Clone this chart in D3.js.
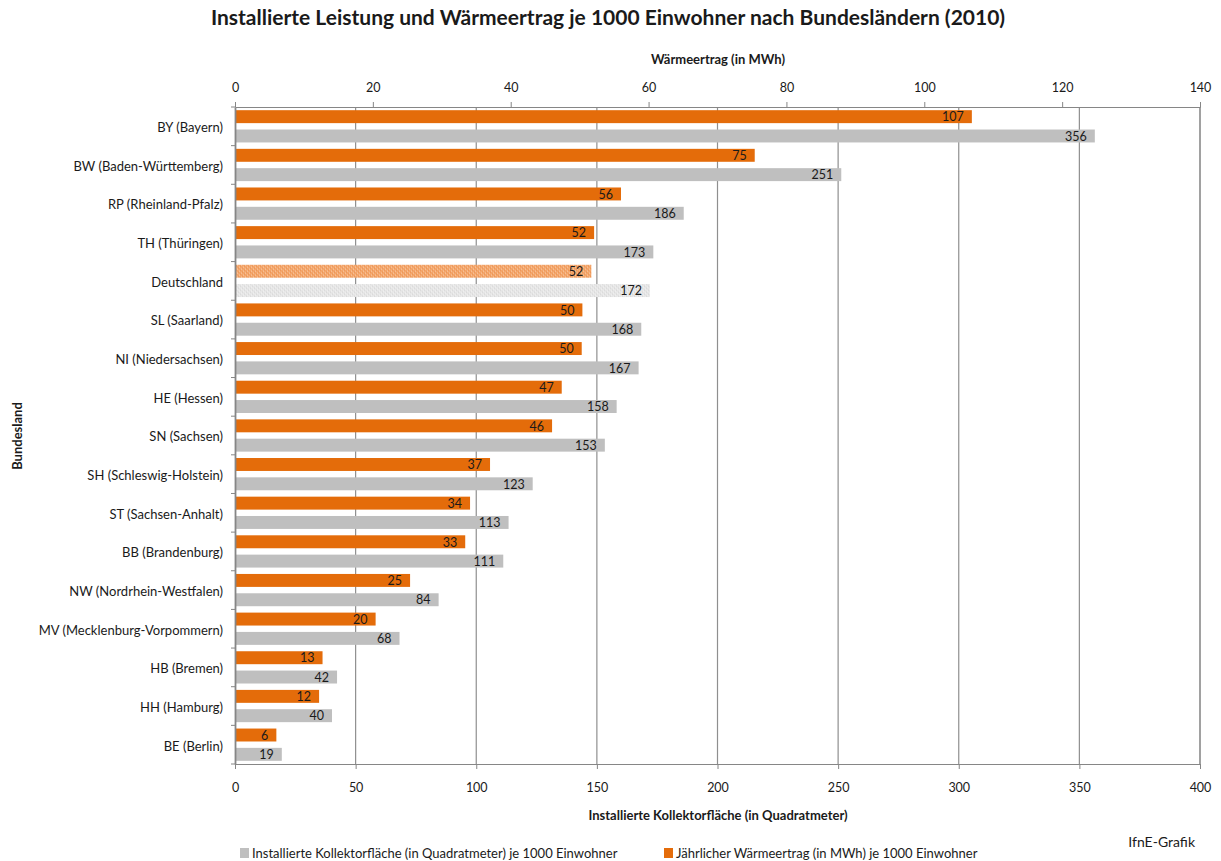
<!DOCTYPE html>
<html>
<head>
<meta charset="utf-8">
<script src="https://cdn.jsdelivr.net/npm/d3@7"></script>
<style>
  body { margin: 0; background: #fff; }
  text { font-family: Lato, "Open Sans", sans-serif; fill: #1a1a1a; }
</style>
</head>
<body>
<div id="chart"></div>
<script>
// data
var laender = ['BY (Bayern)', 'BW (Baden-Württemberg)', 'RP (Rheinland-Pfalz)', 'TH (Thüringen)',
  'Deutschland', 'SL (Saarland)', 'NI (Niedersachsen)', 'HE (Hessen)', 'SN (Sachsen)',
  'SH (Schleswig-Holstein)', 'ST (Sachsen-Anhalt)', 'BB (Brandenburg)', 'NW (Nordrhein-Westfalen)',
  'MV (Mecklenburg-Vorpommern)', 'HB (Bremen)', 'HH (Hamburg)', 'BE (Berlin)'];
var waermeertrag = [106.9, 75.4, 56, 52.1, 51.7, 50.4, 50.3, 47.4, 46, 37, 34.1, 33.4, 25.4, 20.4, 12.7, 12.2, 6];
var kollektorflaeche = [356.4, 251.3, 186, 173.4, 172, 168.4, 167.3, 158.2, 153.3, 123.4, 113.4, 111.2, 84.4, 68.2, 42.3, 40.2, 19.4];
var ticksTop = [0, 20, 40, 60, 80, 100, 120, 140];
var ticksBottom = [0, 50, 100, 150, 200, 250, 300, 350, 400];

(function() {
  var width = 1221, height = 861;
  var plotLeft = 235, plotRight = 1200, plotTop = 107, plotBottom = 764;
  var orange = '#e46c0a', grey = '#bfbfbf', axisCol = '#868686';
  var fmt = d3.format('.0f');

  var svg = d3.select('#chart').append('svg')
    .attr('width', width).attr('height', height);

  // patterns for the Deutschland bars
  var defs = svg.append('defs');
  function pattern(id, bg, dot, light) {
    var p = defs.append('pattern').attr('id', id)
      .attr('patternUnits', 'userSpaceOnUse').attr('width', 4).attr('height', 4);
    p.append('rect').attr('width', 4).attr('height', 4).attr('fill', bg);
    p.append('rect').attr('x', 0).attr('y', 0).attr('width', 1).attr('height', 1).attr('fill', dot);
    p.append('rect').attr('x', 2).attr('y', 2).attr('width', 1).attr('height', 1).attr('fill', dot);
    p.append('rect').attr('x', 3).attr('y', 1).attr('width', 1).attr('height', 1).attr('fill', light);
    p.append('rect').attr('x', 1).attr('y', 3).attr('width', 1).attr('height', 1).attr('fill', light);
  }
  pattern('patO', '#f3a66c', '#eb8f4a', '#f9cfae');
  pattern('patG', '#e6e6e6', '#d4d4d4', '#f4f4f4');

  var xBottom = d3.scaleLinear().domain([0, 400]).range([plotLeft, plotRight]);
  var xTop = d3.scaleLinear().domain([0, 140]).range([plotLeft, plotRight]);
  var y = d3.scaleBand().domain(laender).range([plotTop, plotBottom]);
  var sub = d3.scaleBand().domain(['w', 'k']).range([0, y.bandwidth()])
    .paddingInner(0.33).paddingOuter(0.165);

  // gridlines
  svg.append('g').selectAll('line')
    .data(ticksBottom.slice(1))
    .enter().append('line')
    .attr('x1', function(d) { return xBottom(d); })
    .attr('x2', function(d) { return xBottom(d); })
    .attr('y1', plotTop).attr('y2', plotBottom)
    .attr('stroke', '#8f8f8f').attr('stroke-width', 1.2);

  // bars
  var rows = svg.append('g').selectAll('g')
    .data(laender)
    .enter().append('g')
    .attr('transform', function(d) { return 'translate(0,' + y(d) + ')'; });

  rows.append('rect')
    .attr('x', plotLeft)
    .attr('y', sub('w'))
    .attr('height', sub.bandwidth())
    .attr('width', function(d, i) { return xTop(waermeertrag[i]) - plotLeft; })
    .attr('fill', function(d) { return d === 'Deutschland' ? 'url(#patO)' : orange; });

  rows.append('rect')
    .attr('x', plotLeft)
    .attr('y', sub('k'))
    .attr('height', sub.bandwidth())
    .attr('width', function(d, i) { return xBottom(kollektorflaeche[i]) - plotLeft; })
    .attr('fill', function(d) { return d === 'Deutschland' ? 'url(#patG)' : grey; });

  rows.append('text')
    .attr('x', function(d, i) { return xTop(waermeertrag[i]) - 8; })
    .attr('y', sub('w') + sub.bandwidth() / 2)
    .attr('dy', '0.38em')
    .attr('text-anchor', 'end')
    .style('font-size', '12.5px')
    .text(function(d, i) { return fmt(waermeertrag[i]); });

  rows.append('text')
    .attr('x', function(d, i) { return xBottom(kollektorflaeche[i]) - 8; })
    .attr('y', sub('k') + sub.bandwidth() / 2)
    .attr('dy', '0.38em')
    .attr('text-anchor', 'end')
    .style('font-size', '12.5px')
    .text(function(d, i) { return fmt(kollektorflaeche[i]); });

  // axes
  var axB = svg.append('g').attr('transform', 'translate(0,' + plotBottom + ')')
    .call(d3.axisBottom(xBottom).tickValues(ticksBottom).tickSize(5).tickPadding(14));
  var axT = svg.append('g').attr('transform', 'translate(0,' + plotTop + ')')
    .call(d3.axisTop(xTop).tickValues(ticksTop).tickSize(5).tickPadding(10));
  [axB, axT].forEach(function(ax) {
    ax.select('.domain').attr('stroke', axisCol);
    ax.selectAll('.tick line').attr('stroke', axisCol);
    ax.selectAll('.tick text').style('font-size', '12.5px')
      .style('font-family', 'Lato, sans-serif').attr('fill', '#1a1a1a');
  });

  var axL = svg.append('g').attr('transform', 'translate(' + plotLeft + ',0)')
    .call(d3.axisLeft(y).tickSize(0).tickPadding(12));
  axL.select('.domain').attr('stroke', axisCol).attr('stroke-width', 1.8);
  axL.selectAll('.tick text').style('font-size', '13px').attr('dy', '0.45em')
    .style('font-family', 'Lato, sans-serif').attr('fill', '#1a1a1a');
  // boundary ticks on left axis
  svg.append('g').selectAll('line')
    .data(d3.range(laender.length + 1))
    .enter().append('line')
    .attr('x1', plotLeft - 4).attr('x2', plotLeft)
    .attr('y1', function(i) { return plotTop + i * y.step(); })
    .attr('y2', function(i) { return plotTop + i * y.step(); })
    .attr('stroke', axisCol);

  // right border
  svg.append('line').attr('x1', plotRight).attr('x2', plotRight)
    .attr('y1', plotTop).attr('y2', plotBottom).attr('stroke', axisCol);

  // titles
  svg.append('text').attr('x', 608).attr('y', 25).attr('text-anchor', 'middle')
    .style('font-size', '21px').style('font-weight', 'bold')
    .text('Installierte Leistung und Wärmeertrag je 1000 Einwohner nach Bundesländern (2010)');
  svg.append('text').attr('x', 718).attr('y', 64).attr('text-anchor', 'middle')
    .style('font-size', '13px').style('font-weight', 'bold')
    .text('Wärmeertrag (in MWh)');
  svg.append('text').attr('x', 718).attr('y', 820).attr('text-anchor', 'middle')
    .style('font-size', '13px').style('font-weight', 'bold')
    .text('Installierte Kollektorfläche (in Quadratmeter)');
  svg.append('text').attr('transform', 'translate(22,436) rotate(-90)').attr('text-anchor', 'middle')
    .style('font-size', '13px').style('font-weight', 'bold')
    .text('Bundesland');
  svg.append('text').attr('x', 1195).attr('y', 847).attr('text-anchor', 'end')
    .style('font-size', '14px')
    .text('IfnE-Grafik');

  // legend
  var legend = [
    { label: 'Installierte Kollektorfläche (in Quadratmeter) je 1000 Einwohner', color: grey, x: 240 },
    { label: 'Jährlicher Wärmeertrag (in MWh) je 1000 Einwohner', color: orange, x: 664 }
  ];
  var lg = svg.append('g').selectAll('g').data(legend).enter().append('g')
    .attr('transform', function(d) { return 'translate(' + d.x + ',848)'; });
  lg.append('rect').attr('width', 9).attr('height', 10).attr('fill', function(d) { return d.color; });
  lg.append('text').attr('x', 12).attr('y', 10).style('font-size', '13px')
    .text(function(d) { return d.label; });
})();
</script>
</body>
</html>
